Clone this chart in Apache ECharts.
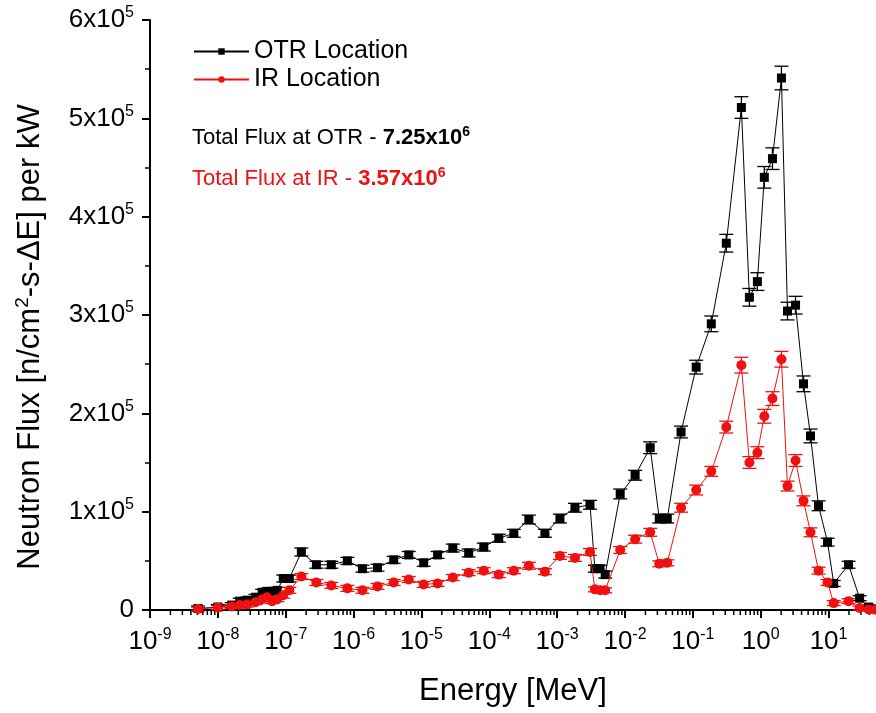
<!DOCTYPE html>
<html lang="en">
<head>
    <meta charset="UTF-8">
    <title>Neutron Flux</title>
    <script src="https://cdn.jsdelivr.net/npm/echarts@6/dist/echarts.min.js"></script>
    <style>
        html, body { margin: 0; padding: 0; background: #fff; }
        #container { width: 876px; height: 713px; }
    </style>
</head>
<body>
<div id="container"></div>
<script>
    // energy bins [MeV]
    var energy = [5.1e-9, 1.0e-8, 1.6e-8, 2.1e-8, 2.7e-8, 3.6e-8, 4.5e-8, 5.3e-8, 6.3e-8, 7.5e-8,
        9.2e-8, 1.13e-7, 1.7e-7, 2.83e-7, 4.7e-7, 8.1e-7, 1.35e-6, 2.25e-6, 3.9e-6, 6.5e-6,
        1.08e-5, 1.73e-5, 2.9e-5, 4.97e-5, 8.3e-5, 1.38e-4, 2.3e-4, 3.83e-4, 6.6e-4, 1.1e-3,
        1.83e-3, 3.05e-3, 3.6e-3, 4.3e-3, 5.1e-3, 8.5e-3, 1.41e-2, 2.35e-2, 3.2e-2, 4.2e-2,
        6.7e-2, 0.112, 0.187, 0.311, 0.519, 0.681, 0.893, 1.13, 1.49, 2.02,
        2.48, 3.26, 4.27, 5.42, 7.11, 9.66, 11.9, 19.7, 28.7, 39, 49];

    var otrFlux = [1500, 3000, 5000, 9000, 10000, 13000, 18000, 19000, 19000, 20000,
        32000, 32000, 59000, 46000, 46000, 50000, 42000, 43000, 51000, 56000,
        48000, 56000, 63000, 58000, 64000, 73000, 78000, 92000, 78000, 93000,
        104000, 107000, 42000, 42000, 36000, 118000, 137000, 165000, 93000, 93000,
        181000, 247000, 291000, 373000, 511000, 318000, 334000, 440000, 459000, 541000,
        304000, 310000, 230000, 177000, 106000, 69000, 27000, 46000, 12000, 3000, 1000];
    var otrErr = [2500, 2500, 2500, 3000, 3000, 3000, 3000, 3000, 3000, 3000,
        3500, 3500, 4000, 3500, 3500, 3500, 3500, 3500, 3500, 3500,
        3500, 3500, 4000, 4000, 4000, 4000, 4000, 4500, 4000, 4500,
        4500, 4500, 3500, 3500, 3500, 5000, 5000, 6000, 4500, 4500,
        6000, 7000, 8000, 9000, 11000, 9000, 9000, 11000, 11000, 12000,
        9000, 9000, 8000, 7000, 5000, 4000, 3000, 3500, 2500, 2000, 1500];

    var irFlux = [1000, 2500, 3500, 5000, 5500, 8000, 11000, 13000, 9000, 11000,
        15000, 20000, 34000, 28000, 25000, 22000, 20000, 24000, 28000, 31000,
        26000, 27000, 33000, 38000, 40000, 36000, 40000, 45000, 39000, 55000,
        53000, 59000, 21000, 20000, 20000, 61000, 72000, 79000, 47000, 48000,
        104000, 122000, 141000, 186000, 249000, 150000, 160000, 197000, 215000, 255000,
        126000, 152000, 111000, 79000, 40000, 28000, 7000, 9000, 2000, 500, 300];
    var irErr = [2000, 2000, 2000, 2500, 2500, 2500, 2500, 2500, 2500, 2500,
        3000, 3000, 3000, 3000, 3000, 3000, 3000, 3000, 3000, 3000,
        3000, 3000, 3000, 3000, 3000, 3000, 3000, 3500, 3000, 3500,
        3500, 3500, 2500, 2500, 2500, 3500, 4000, 4000, 3000, 3000,
        4500, 5000, 5000, 6000, 8000, 6000, 6000, 7000, 7000, 8000,
        5000, 6000, 5000, 4500, 3500, 3000, 2500, 2500, 2000, 1500, 1000];

    var xMin = 1e-9, xMax = 50;
    var decades = [-9, -8, -7, -6, -5, -4, -3, -2, -1, 0, 1];
    var yMax = 6e5;

    var font = 'Liberation Sans';
    var red = '#ee1111';

    // minor tick positions (2..9 x 10^n)
    var minorTicks = [];
    decades.forEach(function (d) {
        for (var k = 2; k <= 9; k++) {
            var v = k * Math.pow(10, d);
            if (v < xMax) minorTicks.push([v, 0]);
        }
    });

    function pairs(vals) {
        return energy.map(function (e, i) { return [e, vals[i]]; });
    }
    function bars(vals, errs) {
        return energy.map(function (e, i) { return [e, vals[i] - errs[i], vals[i] + errs[i]]; });
    }

    function errorBar(color) {
        return function (params, api) {
            var x = api.value(0);
            var lo = api.coord([x, api.value(1)]);
            var hi = api.coord([x, api.value(2)]);
            var w = 7;
            var st = { stroke: color, lineWidth: 1.3 };
            return {
                type: 'group',
                children: [
                    { type: 'line', shape: { x1: lo[0], y1: lo[1], x2: hi[0], y2: hi[1] }, style: st },
                    { type: 'line', shape: { x1: lo[0] - w, y1: lo[1], x2: lo[0] + w, y2: lo[1] }, style: st },
                    { type: 'line', shape: { x1: hi[0] - w, y1: hi[1], x2: hi[0] + w, y2: hi[1] }, style: st }
                ]
            };
        };
    }

    var supRich = {
        b: { fontSize: 26, fontFamily: font, color: '#000' },
        s: { fontSize: 16, fontFamily: font, color: '#000', padding: [0, 0, 14, 0] }
    };

    var myChart = echarts.init(document.getElementById('container'));

    myChart.setOption({
        animation: false,
        grid: { left: 150, right: 0, top: 20, bottom: 103 },
        legend: {
            orient: 'vertical',
            left: 188,
            top: 34,
            itemWidth: 55,
            itemHeight: 8,
            itemGap: 3,
            data: ['OTR Location', 'IR Location'],
            textStyle: { fontSize: 25, fontFamily: font, color: '#000' }
        },
        xAxis: {
            type: 'log',
            logBase: 10,
            min: xMin,
            max: xMax,
            interval: 1,
            name: 'Energy [MeV]',
            nameLocation: 'middle',
            nameGap: 66,
            nameTextStyle: { fontSize: 31, fontFamily: font, color: '#000' },
            axisLine: { lineStyle: { color: '#000', width: 2 } },
            axisTick: { inside: false, length: 8, lineStyle: { color: '#000', width: 2 } },
            splitLine: { show: false },
            axisLabel: {
                margin: 17,
                showMaxLabel: false,
                formatter: function (v) {
                    var p = Math.round(Math.log10(v));
                    return '{b|10}{s|' + p + '}';
                },
                rich: supRich
            }
        },
        yAxis: {
            type: 'value',
            min: 0,
            max: yMax,
            interval: 1e5,
            axisLine: { show: true, lineStyle: { color: '#000', width: 2 } },
            axisTick: { show: true, inside: false, length: 8, lineStyle: { color: '#000', width: 2 } },
            minorTick: { show: true, splitNumber: 2, length: 5, lineStyle: { color: '#000', width: 1.5 } },
            splitLine: { show: false },
            axisLabel: {
                margin: 16,
                formatter: function (v) {
                    if (v === 0) return '{b|0}';
                    return '{b|' + (v / 1e5) + 'x10}{s|5}';
                },
                rich: supRich
            }
        },
        graphic: [
            {
                type: 'text', x: 30, y: 337, rotation: Math.PI / 2,
                style: {
                    text: 'Neutron Flux [n/cm{s|2}-s-\u0394E] per kW',
                    fill: '#000',
                    font: '31px "Liberation Sans"',
                    align: 'center',
                    verticalAlign: 'middle',
                    rich: {
                        s: { fontSize: 19, fontFamily: font, fill: '#000', padding: [0, 0, 15, 0] }
                    }
                }
            },
            {
                type: 'text', left: 192, top: 125,
                style: {
                    text: 'Total Flux at OTR - {bb|7.25x10}{bs|6}',
                    fill: '#000',
                    font: '22px "Liberation Sans"',
                    rich: {
                        bb: { fontSize: 22, fontWeight: 'bold', fontFamily: font, fill: '#000' },
                        bs: { fontSize: 14, fontWeight: 'bold', fontFamily: font, fill: '#000', padding: [0, 0, 11, 0] }
                    }
                }
            },
            {
                type: 'text', left: 192, top: 166,
                style: {
                    text: 'Total Flux at IR - {bb|3.57x10}{bs|6}',
                    fill: red,
                    font: '22px "Liberation Sans"',
                    rich: {
                        bb: { fontSize: 22, fontWeight: 'bold', fontFamily: font, fill: red },
                        bs: { fontSize: 14, fontWeight: 'bold', fontFamily: font, fill: red, padding: [0, 0, 11, 0] }
                    }
                }
            }
        ],
        series: [
            {
                type: 'custom',
                name: 'minorTicks',
                silent: true,
                clip: false,
                data: minorTicks,
                renderItem: function (params, api) {
                    var p = api.coord([api.value(0), 0]);
                    return {
                        type: 'line',
                        shape: { x1: p[0], y1: p[1], x2: p[0], y2: p[1] + 5 },
                        style: { stroke: '#000', lineWidth: 1.5 }
                    };
                }
            },
            {
                type: 'custom',
                name: 'otrErr',
                silent: true,
                data: bars(otrFlux, otrErr),
                encode: { x: 0, y: [1, 2] },
                renderItem: errorBar('#000'),
                z: 3
            },
            {
                type: 'custom',
                name: 'irErr',
                silent: true,
                data: bars(irFlux, irErr),
                encode: { x: 0, y: [1, 2] },
                renderItem: errorBar(red),
                z: 3
            },
            {
                name: 'OTR Location',
                type: 'line',
                data: pairs(otrFlux),
                symbol: 'rect',
                symbolSize: 9,
                itemStyle: { color: '#000' },
                lineStyle: { color: '#000', width: 1 },
                z: 4
            },
            {
                name: 'IR Location',
                type: 'line',
                data: pairs(irFlux),
                symbol: 'circle',
                symbolSize: 10,
                itemStyle: { color: red },
                lineStyle: { color: red, width: 1 },
                z: 5
            }
        ]
    });
</script>
</body>
</html>
